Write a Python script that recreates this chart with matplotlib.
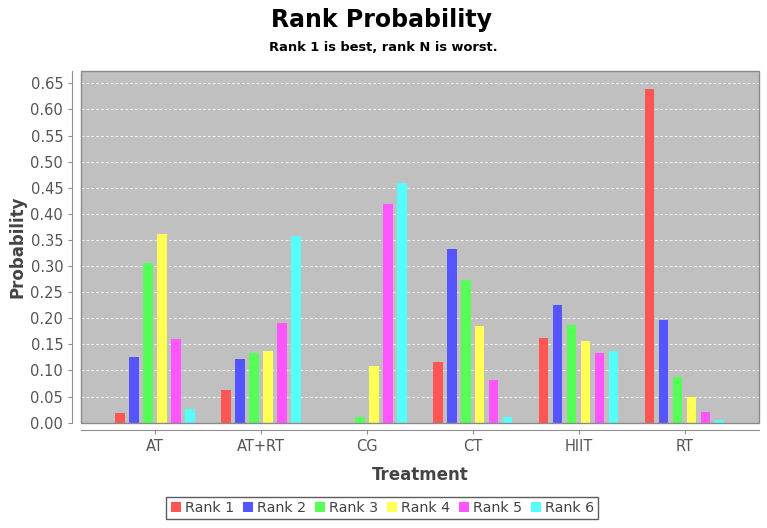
import numpy as np
import matplotlib
matplotlib.use("Agg")
import matplotlib.pyplot as plt
from matplotlib.patches import Rectangle

treatments = ["AT", "AT+RT", "CG", "CT", "HIIT", "RT"]
rank_labels = ["Rank 1", "Rank 2", "Rank 3", "Rank 4", "Rank 5", "Rank 6"]

# probability of each rank, one list per rank, in treatment order
rank1 = [0.019, 0.062, 0.000, 0.117, 0.163, 0.640]
rank2 = [0.125, 0.122, 0.000, 0.332, 0.225, 0.197]
rank3 = [0.305, 0.133, 0.010, 0.273, 0.188, 0.087]
rank4 = [0.362, 0.138, 0.108, 0.185, 0.157, 0.050]
rank5 = [0.160, 0.190, 0.418, 0.082, 0.133, 0.020]
rank6 = [0.027, 0.357, 0.460, 0.010, 0.137, 0.005]
ranks = [rank1, rank2, rank3, rank4, rank5, rank6]

colors = ["#FF5555", "#5555FF", "#55FF55", "#FFFF55", "#FF55FF", "#55FFFF"]

fig = plt.figure(figsize=(7.67, 5.28), dpi=100)
ax = fig.add_axes([0.105, 0.1994, 0.8846, 0.6666])
ax.set_facecolor("#C0C0C0")

x = np.arange(len(treatments))
step = 0.132
width = 0.09
for i, (vals, lab, col) in enumerate(zip(ranks, rank_labels, colors)):
    ax.bar(x + (i - 2.5) * step, vals, width, color=col, label=lab, zorder=3)

ax.set_xlim(-0.703, 5.703)
ax.set_ylim(0, 0.674)
ax.set_yticks(np.arange(0, 0.651, 0.05))
ax.set_yticklabels([f"{v:.2f}" for v in np.arange(0, 0.651, 0.05)])
ax.set_xticks(x)
ax.set_xticklabels(treatments)

ax.yaxis.grid(True, color="#F0F0F0", linestyle=(0, (3, 2)), linewidth=0.7, zorder=1)
ax.set_axisbelow(True)

for s in ["top", "right"]:
    ax.spines[s].set_visible(False)
ax.spines["left"].set_position(("outward", 6))
ax.spines["bottom"].set_position(("outward", 5))
ax.spines["left"].set_color("#909090")
ax.spines["bottom"].set_color("#909090")
ax.add_patch(Rectangle((0, 0), 1, 1, transform=ax.transAxes, fill=False,
                       edgecolor="#8a8a8a", linewidth=1.0, zorder=5, clip_on=False))

ax.tick_params(axis="both", colors="#909090", labelcolor="#555555", labelsize=10.5,
               length=3)
ax.set_xlabel("Treatment", fontsize=12, fontweight="bold", color="#444444", labelpad=9)
ax.set_ylabel("Probability", fontsize=12, fontweight="bold", color="#444444", labelpad=3)

fig.text(0.497, 0.962, "Rank Probability", ha="center", va="center",
         fontsize=17, fontweight="bold")
fig.text(0.5, 0.91, "Rank 1 is best, rank N is worst.", ha="center", va="center",
         fontsize=9.4, fontweight="bold")

leg = fig.legend(loc="center", bbox_to_anchor=(0.4985, 0.0375), ncol=6, fontsize=10.3,
                 frameon=True, fancybox=False, handlelength=0.7, handleheight=0.7,
                 handletextpad=0.3, columnspacing=0.6, borderpad=0.3)
leg.get_frame().set_edgecolor("#333333")
leg.get_frame().set_linewidth(1.0)
for t in leg.get_texts():
    t.set_color("#444444")

fig.savefig("out.png", dpi=100)
